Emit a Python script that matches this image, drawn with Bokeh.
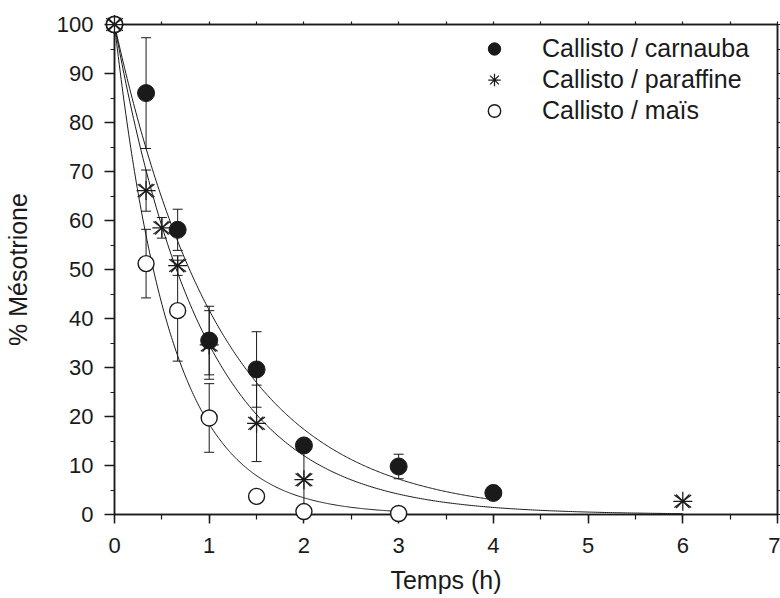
import numpy as np
from bokeh.plotting import figure
from bokeh.models import (ColumnDataSource, Whisker, TeeHead, LinearAxis,
                          SingleIntervalTicker, Range1d, Legend, LegendItem)
from bokeh.embed import file_html
from bokeh.resources import INLINE

# ---- data ----
time_carnauba = [0, 1/3, 2/3, 1, 1.5, 2, 3, 4]
pct_carnauba = [100, 86.0, 58.1, 35.5, 29.6, 14.1, 9.8, 4.4]
err_carnauba = [0, 11.3, 4.2, 7.0, 7.7, 0, 2.5, 0]

time_paraffine = [0, 1/3, 0.5, 2/3, 1, 1.5, 2, 6]
pct_paraffine = [100, 66.1, 58.5, 50.8, 34.6, 18.6, 7.1, 2.7]
err_paraffine = [0, 4.2, 2.1, 2.0, 7.0, 7.8, 7.0, 0]

time_mais = [0, 1/3, 2/3, 1, 1.5, 2, 3]
pct_mais = [100, 51.2, 41.6, 19.7, 3.7, 0.6, 0.2]
err_mais = [0, 7.0, 10.3, 7.0, 0, 0, 0]

# first-order decay fits (rate constants in h^-1, end of fitted curve in h)
fit_k = [0.875, 1.06, 1.69]          # carnauba, paraffine, maïs
fit_end = [4, 6, 3]

series_labels = ["Callisto / carnauba", "Callisto / paraffine", "Callisto / maïs"]
x_max = 7
y_max = 100

FONT = "Liberation Sans"
INK = "#1a1a1a"

p = figure(width=780, height=598, x_range=Range1d(0, x_max),
           y_range=Range1d(0, y_max), output_backend="svg",
           toolbar_location=None, min_border_left=111, min_border_top=24,
           min_border_right=3, min_border_bottom=84)
p.grid.visible = False
p.outline_line_color = INK
p.outline_line_width = 1.5
p.background_fill_color = "white"
p.border_fill_color = "white"

# bottom axis
xa = p.xaxis[0]
xa.ticker = SingleIntervalTicker(interval=1, num_minor_ticks=2)
xa.major_tick_out = 9
xa.major_tick_in = 0
xa.minor_tick_out = 5
xa.minor_tick_in = 0
xa.axis_label = "Temps (h)"
# left axis
ya = p.yaxis[0]
ya.ticker = SingleIntervalTicker(interval=10, num_minor_ticks=2)
ya.major_tick_out = 10
ya.major_tick_in = 0
ya.minor_tick_out = 4
ya.minor_tick_in = 0
ya.axis_label = "% Mésotrione"

for ax in (xa, ya):
    ax.axis_line_color = INK
    ax.axis_line_width = 1.5
    ax.major_tick_line_color = INK
    ax.major_tick_line_width = 1.5
    ax.minor_tick_line_color = INK
    ax.minor_tick_line_width = 1.2
    ax.major_label_text_font = FONT
    ax.major_label_text_font_size = "22px"
    ax.major_label_text_color = INK
    ax.axis_label_text_font = FONT
    ax.axis_label_text_font_size = "25px"
    ax.axis_label_text_font_style = "normal"
    ax.axis_label_text_color = INK
xa.major_label_standoff = 14
xa.axis_label_standoff = 10
ya.major_label_standoff = 11
ya.axis_label_standoff = 22

# top and right axes: small outward ticks, no labels
top = LinearAxis(ticker=SingleIntervalTicker(interval=0.5, num_minor_ticks=0),
                 major_tick_out=3, major_tick_in=0, minor_tick_out=0, minor_tick_in=0,
                 major_label_text_color=None, axis_line_color=INK, axis_line_width=1.5,
                 major_tick_line_color=INK, major_tick_line_width=1.2)
right = LinearAxis(ticker=SingleIntervalTicker(interval=5, num_minor_ticks=0),
                   major_tick_out=3, major_tick_in=0, minor_tick_out=0, minor_tick_in=0,
                   major_label_text_color=None, axis_line_color=INK, axis_line_width=1.5,
                   major_tick_line_color=INK, major_tick_line_width=1.2)
p.add_layout(top, "above")
p.add_layout(right, "right")

# fitted curves
for k, tend in zip(fit_k, fit_end):
    t = np.linspace(0, tend, 300)
    p.line(t, 100 * np.exp(-k * t), line_color=INK, line_width=1)

# error bars
def add_err(ts, vs, es):
    sel = [i for i, e in enumerate(es) if e > 0]
    src = ColumnDataSource(dict(
        x=[ts[i] for i in sel],
        upper=[vs[i] + es[i] for i in sel],
        lower=[vs[i] - es[i] for i in sel]))
    w = Whisker(base="x", upper="upper", lower="lower", source=src,
                line_color=INK, line_width=1,
                upper_head=TeeHead(size=10, line_color=INK, line_width=1),
                lower_head=TeeHead(size=10, line_color=INK, line_width=1))
    p.add_layout(w)

add_err(time_carnauba, pct_carnauba, err_carnauba)
add_err(time_paraffine, pct_paraffine, err_paraffine)
add_err(time_mais, pct_mais, err_mais)

r_carn = p.scatter(time_carnauba, pct_carnauba, marker="circle", size=17,
                   fill_color=INK, line_color=INK, line_width=1, level="overlay")
r_mais = p.scatter(time_mais, pct_mais, marker="circle", size=16,
                   fill_color="white", line_color=INK, line_width=1.4, level="overlay")
# asterisk: standard asterisk plus two flatter, wider diagonal strokes
r_para = p.scatter(time_paraffine, pct_paraffine, marker="asterisk", size=19,
                   line_color=INK, line_width=1.25, level="overlay")
p.scatter(time_paraffine, pct_paraffine, marker="dash", size=21,
          angle=0.64, line_color=INK, line_width=1.2, level="overlay")
p.scatter(time_paraffine, pct_paraffine, marker="dash", size=21,
          angle=-0.64, line_color=INK, line_width=1.2, level="overlay")

legend = Legend(items=[LegendItem(label=series_labels[0], renderers=[r_carn]),
                       LegendItem(label=series_labels[1], renderers=[r_para]),
                       LegendItem(label=series_labels[2], renderers=[r_mais])],
                location=(362, 388), glyph_width=36, glyph_height=31, spacing=0,
                padding=0, margin=0, label_standoff=30,
                label_text_font=FONT, label_text_font_size="25px",
                label_text_color=INK, border_line_color=None,
                background_fill_alpha=0)
p.add_layout(legend)

open("out.html", "w").write(file_html(p, INLINE))
